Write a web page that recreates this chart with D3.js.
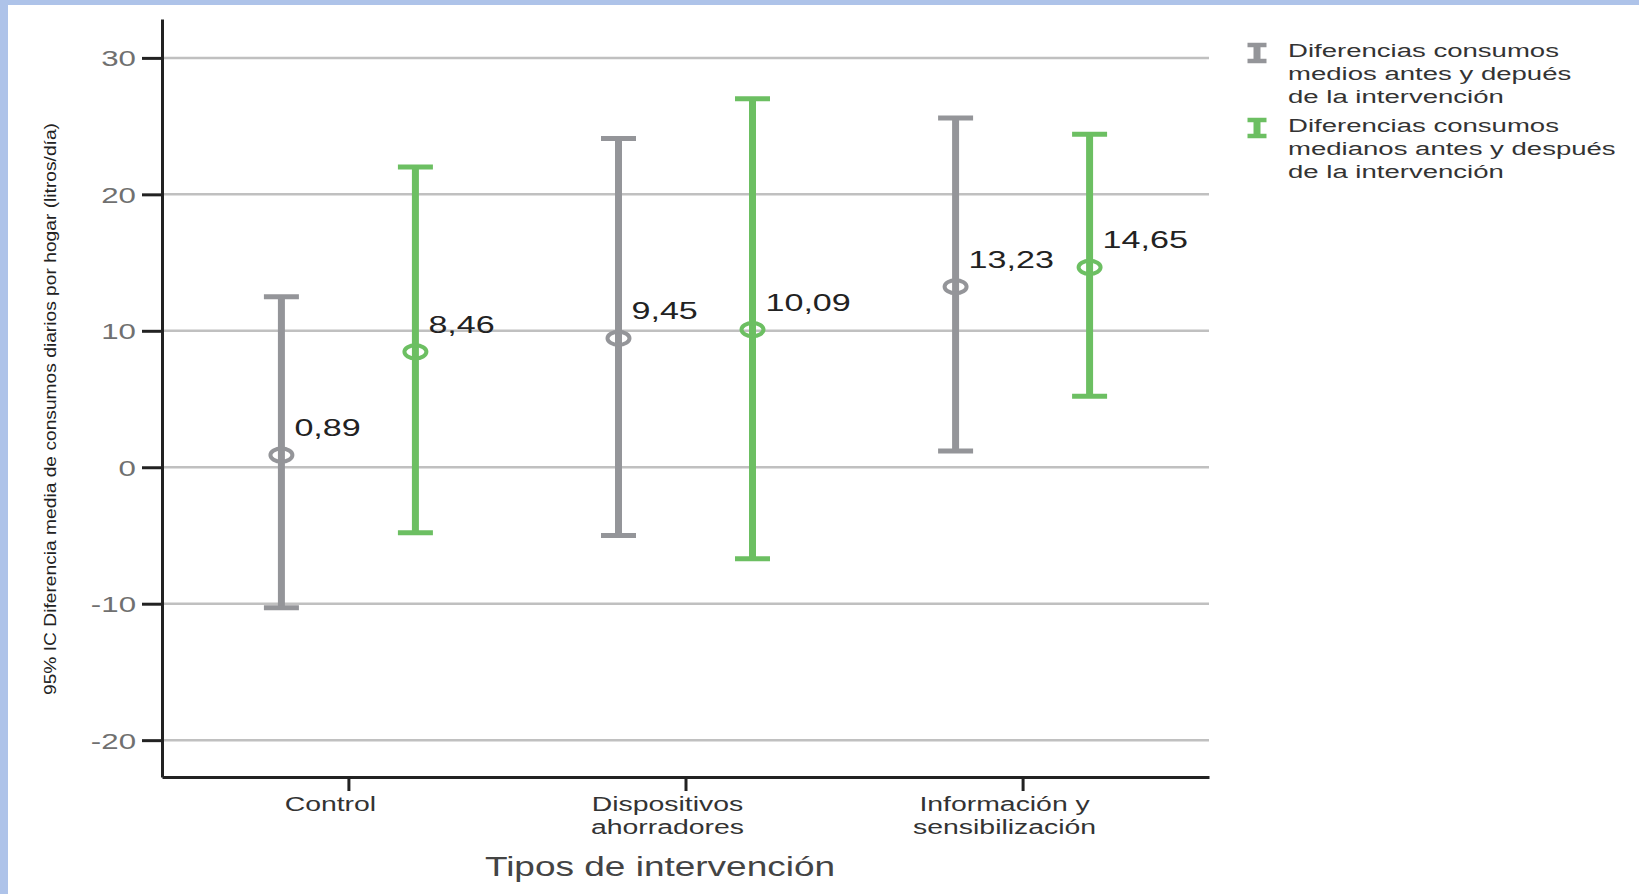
<!DOCTYPE html>
<html>
<head>
<meta charset="utf-8">
<script src="https://cdn.jsdelivr.net/npm/d3@7"></script>
<style>
  body { margin: 0; background: #fff; }
  svg { display: block; font-family: "Liberation Sans", Arial, sans-serif; }
</style>
</head>
<body>
<div id="chart"></div>
<script>
// Data
const categories = ["Control", "Dispositivos ahorradores", "Información y sensibilización"];
const categoryLines = [["Control"], ["Dispositivos", "ahorradores"], ["Información y", "sensibilización"]];
const series = ["medios", "medianos"];
const seriesLegend = [
  ["Diferencias consumos", "medios antes y depués", "de la intervención"],
  ["Diferencias consumos", "medianos antes y después", "de la intervención"]
];
const seriesColors = ["#949599", "#6cbf62"];
const meanValues   = [[0.89, 9.45, 13.23], [8.46, 10.09, 14.65]];
const lowerValues  = [[-10.3, -5.0, 1.2], [-4.8, -6.7, 5.2]];
const upperValues  = [[12.5, 24.1, 25.6], [22.0, 27.0, 24.4]];
const valueLabels  = [["0,89", "9,45", "13,23"], ["8,46", "10,09", "14,65"]];
const yTicks = [-20, -10, 0, 10, 20, 30];

const W = 1639, H = 894;
const SX = 1.42; // text in the original is stretched sideways
const margin = { top: 19, right: 430, bottom: 117, left: 162 };

const svg = d3.select('#chart').append('svg')
  .attr('width', W)
  .attr('height', H);

// blue frame on top and left
svg.append('rect').attr('x', 0).attr('y', 0).attr('width', W).attr('height', 5).attr('fill', '#aec3e9');
svg.append('rect').attr('x', 0).attr('y', 0).attr('width', 8).attr('height', H).attr('fill', '#aec3e9');

const x = d3.scalePoint().domain(categories).range([margin.left, W - margin.right]).padding(0.553);
const xs = d3.scalePoint().domain(series).range([-67, 67]);
const y = d3.scaleLinear().domain([-22.7, 32.85]).range([H - margin.bottom, margin.top]);

// gridlines
svg.append('g').selectAll('line')
  .data(yTicks)
  .join('line')
    .attr('x1', margin.left).attr('x2', W - margin.right)
    .attr('y1', d => y(d)).attr('y2', d => y(d))
    .attr('stroke', '#c0c0c0')
    .attr('stroke-width', 2.5);

// y axis
const yAxis = d3.axisLeft(y).tickValues(yTicks).tickSize(20).tickSizeOuter(0).tickFormat(d => String(d));
const gy = svg.append('g')
  .attr('transform', `translate(${margin.left},0)`)
  .call(yAxis);
gy.select('.domain').attr('stroke', '#222').attr('stroke-width', 3);
gy.selectAll('.tick line').attr('stroke', '#222').attr('stroke-width', 3);
gy.selectAll('.tick text')
  .attr('x', null)
  .attr('dy', '0.36em')
  .attr('transform', 'translate(-26,0) scale(' + SX + ',1)')
  .attr('font-size', 22)
  .attr('fill', '#707070');

// x axis
const xAxis = d3.axisBottom(x).tickSize(14).tickSizeOuter(0).tickFormat('');
const gx = svg.append('g')
  .attr('transform', `translate(0,${H - margin.bottom})`)
  .call(xAxis);
gx.select('.domain').attr('stroke', '#222').attr('stroke-width', 3);
gx.selectAll('.tick line').attr('stroke', '#222').attr('stroke-width', 3);

// category labels (two lines where needed)
const catLabel = svg.append('g').selectAll('text')
  .data(categories)
  .join('text')
    .attr('text-anchor', 'middle')
    .attr('font-size', 20)
    .attr('fill', '#333')
    .attr('transform', (d, i) => `translate(${x(d) - 18},${H - margin.bottom + 34}) scale(${SX},1)`);
catLabel.selectAll('tspan')
  .data((d, i) => categoryLines[i])
  .join('tspan')
    .attr('x', 0)
    .attr('dy', (d, i) => i === 0 ? 0 : 23)
    .text(d => d);

// axis titles
svg.append('text')
  .attr('text-anchor', 'middle')
  .attr('font-size', 27)
  .attr('fill', '#444')
  .attr('transform', `translate(660,876) scale(1.37,1)`)
  .text('Tipos de intervención');

svg.append('text')
  .attr('text-anchor', 'middle')
  .attr('font-size', 17)
  .attr('fill', '#222')
  .attr('transform', 'translate(56,409) rotate(-90)')
  .attr('textLength', 572)
  .attr('lengthAdjust', 'spacingAndGlyphs')
  .text('95% IC Diferencia media de consumos diarios por hogar (litros/día)');

// error bars
const bars = [];
series.forEach((s, si) => {
  categories.forEach((c, ci) => {
    bars.push({ s, si, c, mean: meanValues[si][ci], lo: lowerValues[si][ci], hi: upperValues[si][ci], label: valueLabels[si][ci] });
  });
});

const barG = svg.append('g').selectAll('g')
  .data(bars)
  .join('g')
    .attr('transform', d => `translate(${x(d.c) + xs(d.s)},0)`);

barG.append('line')
  .attr('x1', 0).attr('x2', 0)
  .attr('y1', d => y(d.hi)).attr('y2', d => y(d.lo))
  .attr('stroke', d => seriesColors[d.si])
  .attr('stroke-width', 7);

barG.selectAll('line.cap')
  .data(d => [d.hi, d.lo].map(v => ({ v, si: d.si })))
  .join('line')
    .attr('class', 'cap')
    .attr('x1', -17.5).attr('x2', 17.5)
    .attr('y1', d => y(d.v)).attr('y2', d => y(d.v))
    .attr('stroke', d => seriesColors[d.si])
    .attr('stroke-width', 5);

barG.append('ellipse')
  .attr('cx', 0)
  .attr('cy', d => y(d.mean))
  .attr('rx', 11).attr('ry', 6.5)
  .attr('fill', 'none')
  .attr('stroke', d => seriesColors[d.si])
  .attr('stroke-width', 4);

barG.append('text')
  .attr('font-size', 24)
  .attr('fill', '#222')
  .attr('transform', d => `translate(13,${y(d.mean) - 19}) scale(${SX},1)`)
  .text(d => d.label);

// legend
const legend = svg.append('g').selectAll('g')
  .data(series)
  .join('g')
    .attr('transform', (d, i) => `translate(1257,${53 + i * 75})`);

legend.append('line')
  .attr('x1', 0).attr('x2', 0).attr('y1', -10).attr('y2', 10)
  .attr('stroke', (d, i) => seriesColors[i]).attr('stroke-width', 7);
legend.selectAll('line.cap')
  .data((d, i) => [-8, 8].map(o => ({ o, i })))
  .join('line')
    .attr('class', 'cap')
    .attr('x1', -9.5).attr('x2', 9.5)
    .attr('y1', d => d.o).attr('y2', d => d.o)
    .attr('stroke', d => seriesColors[d.i]).attr('stroke-width', 4.5);

legend.each(function(d, i) {
  d3.select(this).selectAll('text')
    .data(seriesLegend[i])
    .join('text')
      .attr('font-size', 19)
      .attr('fill', '#333')
      .attr('transform', (t, j) => `translate(31,${4 + j * 23}) scale(1.45,1)`)
      .text(t => t);
});
</script>
</body>
</html>
